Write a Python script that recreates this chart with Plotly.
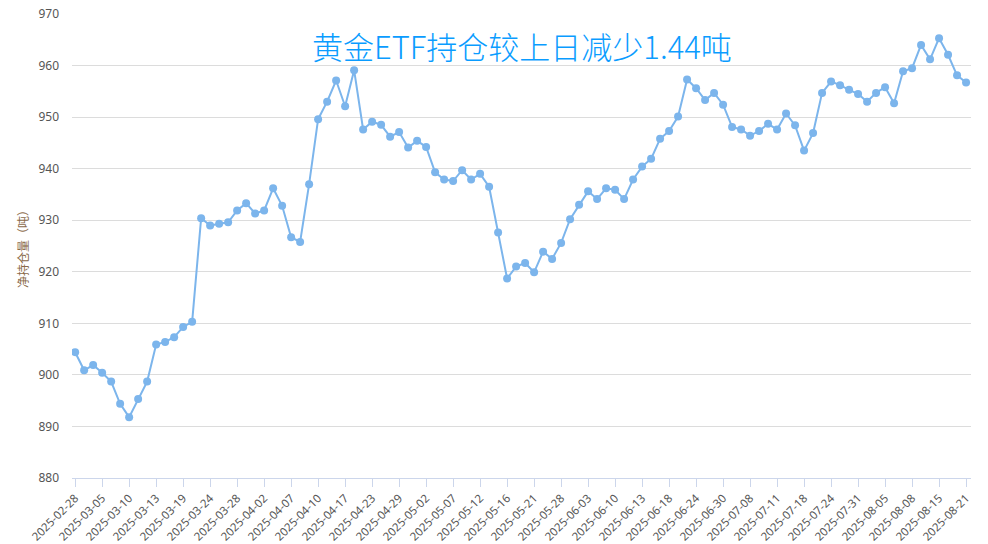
import plotly.graph_objects as go

dates = [
    "2025-02-28", "2025-03-03", "2025-03-04", "2025-03-05", "2025-03-06", "2025-03-07",
    "2025-03-10", "2025-03-11", "2025-03-12", "2025-03-13", "2025-03-14", "2025-03-18",
    "2025-03-19", "2025-03-20", "2025-03-21", "2025-03-24", "2025-03-25", "2025-03-27",
    "2025-03-28", "2025-03-31", "2025-04-01", "2025-04-02", "2025-04-03", "2025-04-04",
    "2025-04-07", "2025-04-08", "2025-04-09", "2025-04-10", "2025-04-14", "2025-04-16",
    "2025-04-17", "2025-04-21", "2025-04-22", "2025-04-23", "2025-04-25", "2025-04-28",
    "2025-04-29", "2025-04-30", "2025-05-01", "2025-05-02", "2025-05-05", "2025-05-06",
    "2025-05-07", "2025-05-08", "2025-05-09", "2025-05-12", "2025-05-14", "2025-05-15",
    "2025-05-16", "2025-05-19", "2025-05-20", "2025-05-21", "2025-05-23", "2025-05-27",
    "2025-05-28", "2025-05-30", "2025-06-02", "2025-06-03", "2025-06-05", "2025-06-09",
    "2025-06-10", "2025-06-11", "2025-06-12", "2025-06-13", "2025-06-16", "2025-06-17",
    "2025-06-18", "2025-06-20", "2025-06-23", "2025-06-24", "2025-06-25", "2025-06-27",
    "2025-06-30", "2025-07-03", "2025-07-07", "2025-07-08", "2025-07-09", "2025-07-10",
    "2025-07-11", "2025-07-15", "2025-07-17", "2025-07-18", "2025-07-22", "2025-07-23",
    "2025-07-24", "2025-07-28", "2025-07-30", "2025-07-31", "2025-08-01", "2025-08-04",
    "2025-08-05", "2025-08-06", "2025-08-07", "2025-08-08", "2025-08-12", "2025-08-14",
    "2025-08-15", "2025-08-19", "2025-08-20", "2025-08-21",
]

holdings = [
    904.4, 900.9, 901.9, 900.4, 898.7, 894.4, 891.8, 895.3, 898.7, 905.9,
    906.4, 907.3, 909.3, 910.3, 930.4, 929.0, 929.3, 929.6, 931.9, 933.3,
    931.3, 931.9, 936.2, 932.8, 926.7, 925.8, 937.0, 949.6, 953.0, 957.1,
    952.1, 959.1, 947.6, 949.1, 948.5, 946.2, 947.1, 944.1, 945.4, 944.2,
    939.3, 937.9, 937.6, 939.7, 937.9, 939.0, 936.5, 927.6, 918.7, 921.0,
    921.7, 919.9, 923.9, 922.5, 925.6, 930.2, 933.0, 935.6, 934.1, 936.2,
    935.9, 934.1, 937.9, 940.4, 941.9, 945.8, 947.3, 950.1, 957.3, 955.6,
    953.3, 954.7, 952.4, 948.1, 947.6, 946.4, 947.3, 948.7, 947.6, 950.7,
    948.4, 943.5, 946.9, 954.7, 956.9, 956.2, 955.3, 954.5, 953.0, 954.7,
    955.8, 952.7, 958.9, 959.5, 964.0, 961.2, 965.3, 962.1, 958.1, 956.7,
]

title_text = "黄金ETF持仓较上日减少1.44吨"
y_title = "净持仓量（吨）"
y_ticks = [880, 890, 900, 910, 920, 930, 940, 950, 960, 970]

tick_vals = dates[::3]

fig = go.Figure()
fig.add_trace(go.Scatter(
    x=dates, y=holdings, mode="lines+markers",
    line=dict(color="#7cb5ec", width=2),
    marker=dict(color="#7cb5ec", size=8),
    hoverinfo="x+y",
))

fig.update_layout(
    width=988, height=544,
    margin=dict(l=72, r=17, t=14, b=66),
    paper_bgcolor="white", plot_bgcolor="white",
    showlegend=False,
    font=dict(family="Noto Sans, Noto Sans CJK SC", color="#555555", size=12),
    annotations=[dict(
        text=title_text, x=0.5, y=0.933, xref="paper", yref="paper",
        xanchor="center", yanchor="middle", showarrow=False,
        font=dict(family="Noto Sans CJK SC", size=31, color="#0a9cff", weight=300),
    )],
)

fig.update_xaxes(
    type="category", range=[-0.35, 99.55], automargin=False,
    tickmode="array", tickvals=tick_vals, ticktext=tick_vals,
    tickangle=-45, ticks="outside", ticklen=8, tickcolor="#ccd6eb",
    showline=True, linecolor="#ccd6eb", linewidth=1,
    showgrid=False, tickfont=dict(size=11.5, color="#555555"),
)

fig.update_yaxes(
    range=[880, 970], tickmode="array", tickvals=y_ticks, automargin=False,
    ticklabeloverflow="allow",
    showgrid=True, gridcolor="#dcdcdc", gridwidth=1, zeroline=False,
    showline=False, ticklabelstandoff=12,
    tickfont=dict(size=12, color="#555555"),
    title=dict(text=y_title, font=dict(size=12, color="#8a6a4a", family="Noto Sans CJK SC"), standoff=7),
)

fig.write_html("out.html", config={"displayModeBar": False},
               post_script="document.body.style.margin='0';")
